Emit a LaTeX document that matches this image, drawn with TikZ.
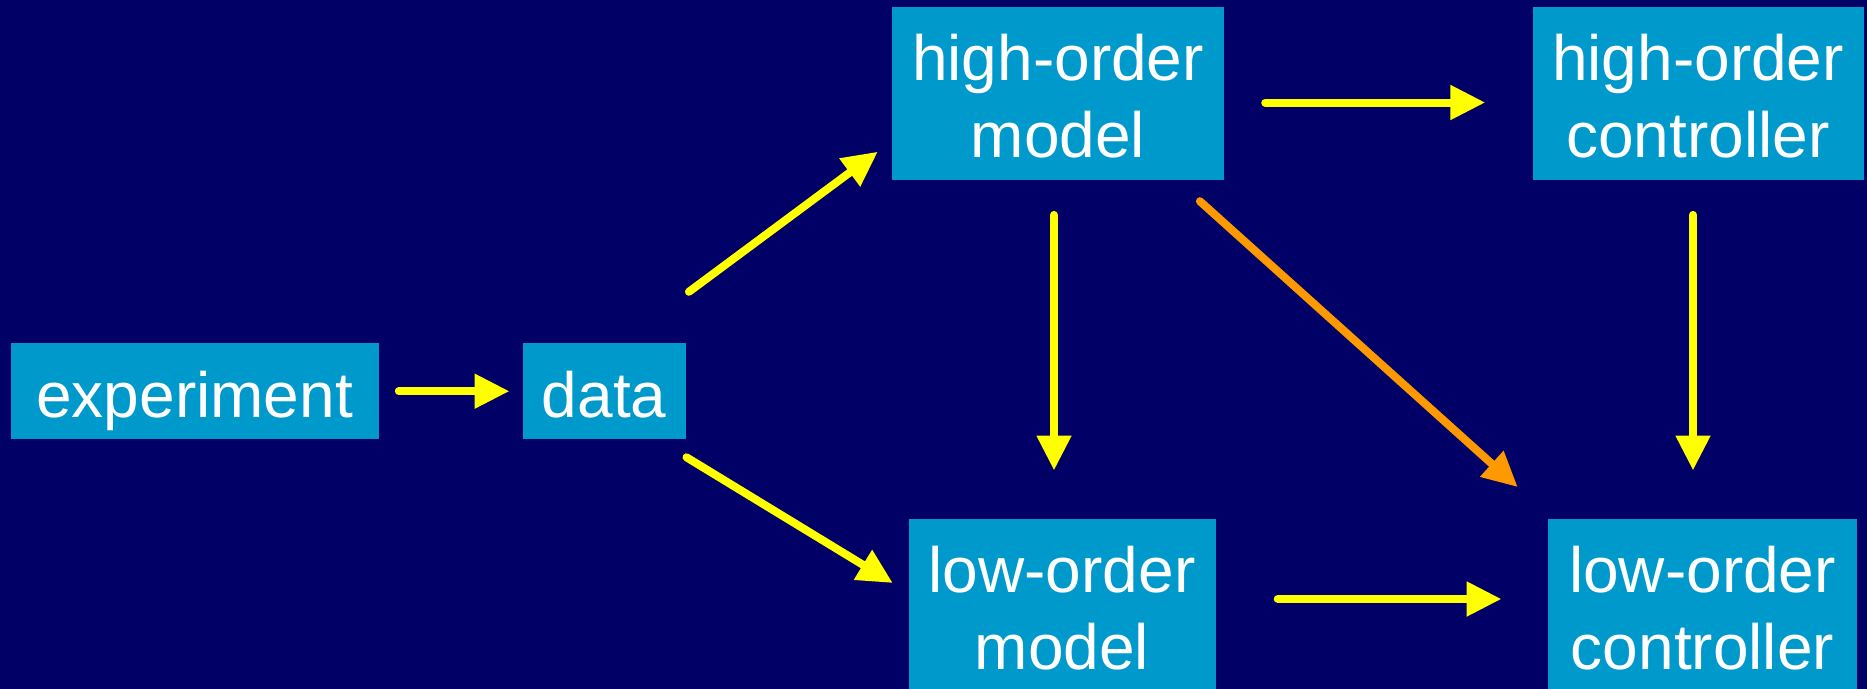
\documentclass[tikz,border=0pt]{standalone}
\usepackage{fontspec}
\setmainfont{Liberation Sans}
\usetikzlibrary{arrows.meta}

\definecolor{navybg}{HTML}{000066}
\definecolor{boxblue}{HTML}{0099CC}
\definecolor{arrowyellow}{HTML}{FFFF00}
\definecolor{arroworange}{HTML}{FF9900}

\begin{document}
\begin{tikzpicture}[
  x=1pt, y=-1pt,
  box/.style={fill=boxblue, inner sep=0pt, text=white,
    font=\fontsize{64}{77.5}\selectfont, align=center},
  onebox/.style={box, text height=74pt, text depth=22.4pt},
  twobox/.style={box, text height=73pt, text depth=100pt},
  link/.style={draw=arrowyellow, line width=8pt, line cap=round,
    -{Triangle[length=35pt,width=33pt]}},
  crosslink/.style={link, draw=arroworange}
]
  % page frame first, then a background that overshoots it slightly
  \useasboundingbox (0,0) rectangle (1867,688);
  \fill[navybg] (-6,-6) rectangle (1873,694);

  % blocks
  \node[onebox, minimum width=368pt] (exp)  at (194.6,391.2) {experiment};
  \node[onebox, minimum width=163pt] (data) at (604.2,391.2) {data};
  \node[twobox, text width=332pt] (hom) at (1058,93.5)  {high-order\\model};
  \node[twobox, text width=331pt] (hoc) at (1698,93.5)  {high-order\\controller};
  \node[twobox, text width=307pt] (lom) at (1062,605.5) {low-order\\model};
  \node[twobox, text width=308.5pt] (loc) at (1702.5,605.5) {low-order\\controller};

  % connectors
  \draw[link] ([xshift=20pt]exp.east) -- ([xshift=-13pt]data.west);
  \draw[link] ([xshift=3pt,yshift=51pt]data.north east)
           -- ([xshift=-14pt,yshift=28.5pt]hom.south west);
  \draw[link] ([xshift=0.6pt,yshift=-17.7pt]data.south east)
           -- ([xshift=-15.5pt,yshift=22.5pt]lom.west);
  \draw[link] ([xshift=41pt,yshift=-9pt]hom.east)
           -- ([xshift=-47pt,yshift=-9pt]hoc.west);
  \draw[link] ([xshift=-4pt,yshift=-34.7pt]hom.south)
           -- ([xshift=-8pt,yshift=48.3pt]lom.north);
  \draw[crosslink] ([xshift=-24.3pt,yshift=-21pt]hom.south east)
           -- ([xshift=-30.3pt,yshift=31.7pt]loc.north west);
  \draw[link] ([xshift=-5pt,yshift=-34.7pt]hoc.south)
           -- ([xshift=-9.5pt,yshift=48.3pt]loc.north);
  \draw[link] ([xshift=62pt,yshift=6.5pt]lom.east)
           -- ([xshift=-46.5pt,yshift=6.5pt]loc.west);
\end{tikzpicture}
\end{document}
